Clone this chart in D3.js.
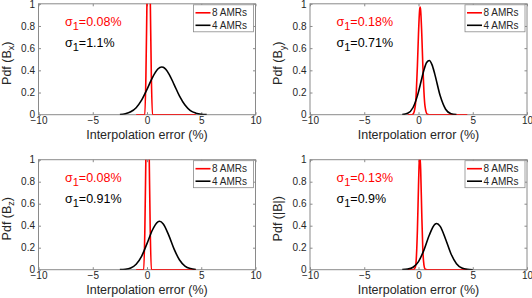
<!DOCTYPE html>
<html>
<head>
<meta charset="utf-8">
<title>Interpolation error pdfs</title>
<script src="https://d3js.org/d3.v7.min.js"></script>
<style>
body { margin: 0; background: #fff; }
svg { font-family: "Liberation Sans", Arial, Helvetica, sans-serif; }
.tick text { fill: #262626; font-size: 10px; }
.tick line { stroke: #8a8a8a; }
</style>
</head>
<body>
<script>
// values
var xTicks = [-10, -5, 0, 5, 10];
var yTicks = [0, 0.2, 0.4, 0.6, 0.8, 1];
var components = ["x", "y", "z", "|B|"];
var legendLabels = ["8 AMRs", "4 AMRs"];
var sigma8 = ["0.08%", "0.18%", "0.08%", "0.13%"];
var sigma4 = ["1.1%", "0.71%", "0.91%", "0.9%"];

// 8 AMRs (red)
var red_bx = [[-1,0],[-0.2,0],[-0.1,0.35],[0,1.05],[0.1,1.7],[0.15,1.8],[0.2,1.7],[0.3,1.05],[0.4,0.35],[0.5,0],[4.5,0]];
var red_by = [[-1,0],[-0.6,0],[-0.5,0.005],[-0.3,0.077],[-0.2,0.21],[-0.1,0.444],[0,0.732],[0.1,0.94],[0.15,0.97],[0.2,0.94],[0.3,0.732],[0.4,0.444],[0.5,0.21],[0.6,0.077],[0.8,0.005],[1,0],[4.5,0]];
var red_bz = [[-1,0],[-0.3,0],[-0.2,0.35],[-0.1,1.05],[0,1.7],[0.05,1.8],[0.1,1.7],[0.2,1.05],[0.3,0.35],[0.4,0],[4.5,0]];
var red_bm = [[-1,0],[-0.5,0],[-0.3,0.021],[-0.2,0.107],[-0.1,0.36],[0,0.76],[0.05,0.94],[0.12,1.05],[0.2,0.91],[0.3,0.51],[0.4,0.18],[0.5,0.043],[0.6,0.006],[0.8,0],[4.5,0]];

// 4 AMRs (black)
var blk_bx = [[-2.5,0.0025],[-2,0.009],[-1.5,0.026],[-1,0.063],[-0.5,0.131],[0,0.228],[0.5,0.335],[1,0.412],[1.35,0.43],[1.5,0.427],[2,0.371],[2.5,0.272],[3,0.167],[3.5,0.087],[4,0.037],[4.5,0.014],[5,0.004],[5.5,0.001]];
var blk_by = [[-1.5,0.0015],[-1,0.013],[-0.5,0.065],[0,0.206],[0.25,0.306],[0.5,0.403],[0.75,0.471],[1,0.489],[1.25,0.449],[1.5,0.366],[2,0.17],[2.5,0.049],[3,0.0086],[3.5,0.001]];
var blk_bz = [[-2.5,0.001],[-2,0.004],[-1.5,0.016],[-1,0.05],[-0.5,0.122],[0,0.237],[0.5,0.361],[1,0.435],[1.15,0.44],[1.5,0.416],[2,0.314],[2.5,0.187],[3,0.088],[3.5,0.033],[4,0.01],[4.5,0.002]];
var blk_bm = [[-1.5,0.001],[-1,0.005],[-0.5,0.022],[0,0.074],[0.5,0.178],[1,0.316],[1.5,0.412],[1.68,0.42],[2,0.394],[2.5,0.277],[3,0.143],[3.5,0.055],[4,0.015],[4.5,0.003],[5,0]];

var redSeries = [red_bx, red_by, red_bz, red_bm];
var blackSeries = [blk_bx, blk_by, blk_bz, blk_bm];

var W = 532, H = 298;
var lefts = [38.5, 310], tops = [3.8, 159.7], heights = [110.9, 110];
var pw = 217;

var svg = d3.select("body").append("svg")
	.attr("width", W).attr("height", H);

components.forEach(function(c, i){
	var col = i % 2, row = Math.floor(i / 2);
	var ph = heights[row];
	var g = svg.append("g")
		.attr("transform", "translate(" + lefts[col] + "," + tops[row] + ")");

	var x = d3.scaleLinear().domain([-10, 10]).range([0, pw]);
	var y = d3.scaleLinear().domain([0, 1]).range([ph, 0]);

	g.append("clipPath").attr("id", "clip" + i)
		.append("rect").attr("width", pw).attr("height", ph);

	// axes with inward ticks, mirrored on top/right
	g.append("g").attr("transform", "translate(0," + ph + ")")
		.call(d3.axisBottom(x).tickValues(xTicks).tickSize(-2.5).tickPadding(2.5)
			.tickFormat(function(d){ return d < 0 ? "\u2212" + Math.abs(d) : d; }))
		.call(function(a){ a.select(".domain").remove(); });
	g.append("g")
		.call(d3.axisLeft(y).tickValues(yTicks).tickSize(-2.5).tickPadding(3.5)
			.tickFormat(d3.format("~g")))
		.call(function(a){ a.select(".domain").remove(); });
	g.append("g")
		.call(d3.axisTop(x).tickValues(xTicks).tickSize(-2.5).tickFormat(""))
		.call(function(a){ a.select(".domain").remove(); });
	g.append("g").attr("transform", "translate(" + pw + ",0)")
		.call(d3.axisRight(y).tickValues(yTicks).tickSize(-2.5).tickFormat(""))
		.call(function(a){ a.select(".domain").remove(); });

	g.append("rect").attr("width", pw).attr("height", ph)
		.attr("fill", "none").attr("stroke", "#8a8a8a").attr("stroke-width", 1);

	var line = d3.line()
		.x(function(d){ return x(d[0]); })
		.y(function(d){ return y(d[1]); })
		.curve(d3.curveMonotoneX);

	var plot = g.append("g").attr("clip-path", "url(#clip" + i + ")");
	plot.append("path").datum(redSeries[i])
		.attr("d", line).attr("fill", "none")
		.attr("stroke", "#ff0000").attr("stroke-width", 1.6);
	plot.append("path").datum(blackSeries[i])
		.attr("d", line).attr("fill", "none")
		.attr("stroke", "#000").attr("stroke-width", 1.6);

	// sigma annotations
	[[sigma8[i], "#ff0000", 22], [sigma4[i], "#000", 43]].forEach(function(s){
		var t = g.append("text").attr("x", 26.5).attr("y", s[2])
			.attr("fill", s[1]).style("font-size", "12.5px");
		t.append("tspan").text("\u03c3");
		t.append("tspan").attr("dy", 4).style("font-size", "11px").text("1");
		t.append("tspan").attr("dy", -4).text("=" + s[0]);
	});

	// legend
	var lg = g.append("g").attr("transform", "translate(" + (pw - 62) + ",1)");
	lg.append("rect").attr("width", 60).attr("height", 27)
		.attr("fill", "#fff").attr("stroke", "#8a8a8a").attr("stroke-width", 0.8);
	legendLabels.forEach(function(lbl, k){
		var yy = 8 + k * 12.5;
		lg.append("line").attr("x1", 2).attr("x2", 17).attr("y1", yy).attr("y2", yy)
			.attr("stroke", k === 0 ? "#ff0000" : "#000").attr("stroke-width", 1.6);
		lg.append("text").attr("x", 18.5).attr("y", yy + 3.6)
			.attr("fill", "#262626").style("font-size", "10px").text(lbl);
	});

	// axis labels
	g.append("text").attr("x", pw / 2).attr("y", ph + 24.5)
		.attr("text-anchor", "middle").attr("fill", "#262626")
		.style("font-size", "12.5px").text("Interpolation error (%)");

	var yl = g.append("text")
		.attr("transform", "translate(" + (-28) + "," + (ph / 2 + 4) + ") rotate(-90)")
		.attr("text-anchor", "middle").attr("fill", "#262626")
		.style("font-size", "12.5px");
	if (c === "|B|") {
		yl.text("Pdf (|B|)");
	} else {
		yl.append("tspan").text("Pdf (B");
		yl.append("tspan").attr("dy", 3.5).style("font-size", "9px").text(c);
		yl.append("tspan").attr("dy", -3.5).text(")");
	}
});
</script>
</body>
</html>
